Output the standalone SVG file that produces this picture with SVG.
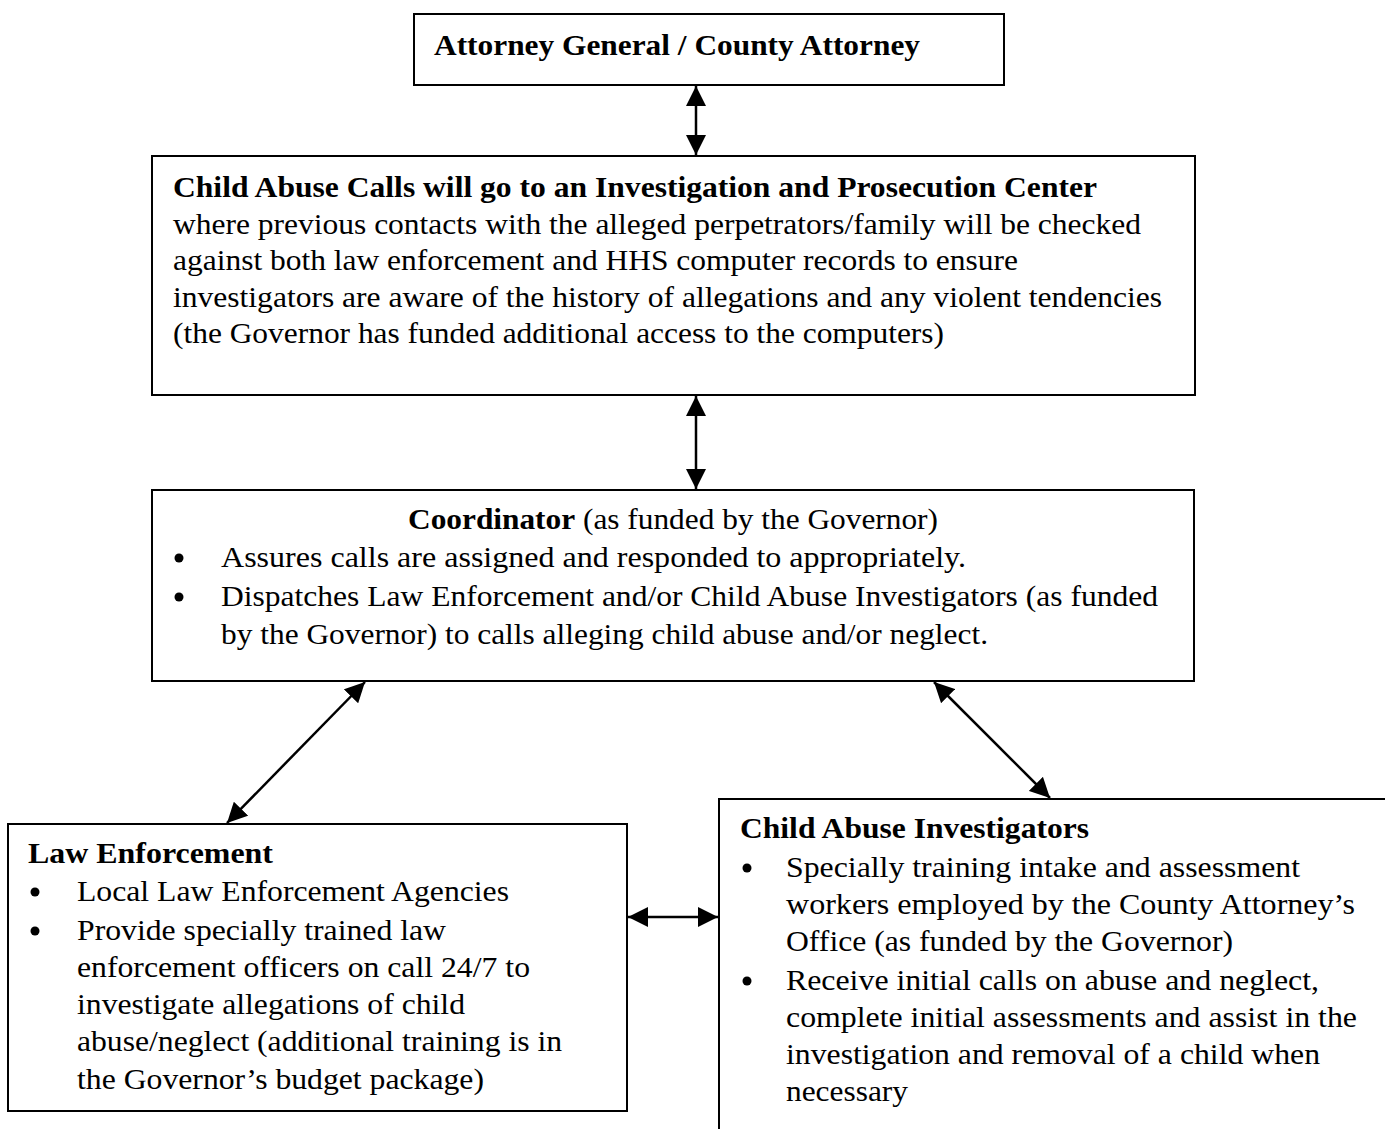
<svg xmlns="http://www.w3.org/2000/svg" width="1385" height="1129" viewBox="0 0 1385 1129">
<style>
.box{fill:none;stroke:#000;stroke-width:2}
.t{font-family:"Liberation Serif","Times New Roman",Times,serif;font-size:30px;fill:#000}
.b{font-weight:bold}
.c{stroke:#000;stroke-width:2.5;fill:none;marker-start:url(#ah);marker-end:url(#ah)}
</style>
<defs>
<marker id="ah" viewBox="0 0 20 20" refX="20" refY="10" markerWidth="20" markerHeight="20" markerUnits="userSpaceOnUse" orient="auto-start-reverse">
<path d="M0,0 L20,10 L0,20 Z" fill="#000"/>
</marker>
</defs>
<rect width="1385" height="1129" fill="#fff"/>
<g id="connectors">
<line class="c" x1="696" y1="86" x2="696" y2="155"/>
<line class="c" x1="696" y1="396" x2="696" y2="489"/>
<line class="c" x1="365" y1="682" x2="227" y2="823"/>
<line class="c" x1="934" y1="682" x2="1050" y2="798"/>
<line class="c" x1="628" y1="917" x2="718" y2="917"/>
</g>
<g id="attorney">
<rect class="box" x="414" y="14" width="590" height="71"/>
<text class="t b" x="434" y="55" textLength="486" lengthAdjust="spacingAndGlyphs">Attorney General / County Attorney</text>
</g>
<g id="center">
<rect class="box" x="152" y="156" width="1043" height="239"/>
<text class="t b" x="173" y="197" textLength="924" lengthAdjust="spacingAndGlyphs">Child Abuse Calls will go to an Investigation and Prosecution Center</text>
<text class="t" x="173" y="234" textLength="968" lengthAdjust="spacingAndGlyphs">where previous contacts with the alleged perpetrators/family will be checked</text>
<text class="t" x="173" y="270" textLength="845" lengthAdjust="spacingAndGlyphs">against both law enforcement and HHS computer records to ensure</text>
<text class="t" x="173" y="307" textLength="989" lengthAdjust="spacingAndGlyphs">investigators are aware of the history of allegations and any violent tendencies</text>
<text class="t" x="173" y="343" textLength="771" lengthAdjust="spacingAndGlyphs">(the Governor has funded additional access to the computers)</text>
</g>
<g id="coordinator">
<rect class="box" x="152" y="490" width="1042" height="191"/>
<text class="t" x="408" y="529" textLength="530" lengthAdjust="spacingAndGlyphs"><tspan class="b">Coordinator</tspan> (as funded by the Governor)</text>
<circle cx="179" cy="558" r="4.5"/>
<text class="t" x="221" y="567" textLength="745" lengthAdjust="spacingAndGlyphs">Assures calls are assigned and responded to appropriately.</text>
<circle cx="179" cy="597" r="4.5"/>
<text class="t" x="221" y="606" textLength="937" lengthAdjust="spacingAndGlyphs">Dispatches Law Enforcement and/or Child Abuse Investigators (as funded</text>
<text class="t" x="221" y="644" textLength="767" lengthAdjust="spacingAndGlyphs">by the Governor) to calls alleging child abuse and/or neglect.</text>
</g>
<g id="law-enforcement">
<rect class="box" x="8" y="824" width="619" height="287"/>
<text class="t b" x="28" y="863" textLength="245" lengthAdjust="spacingAndGlyphs">Law Enforcement</text>
<circle cx="35" cy="892" r="4.5"/>
<text class="t" x="77" y="901" textLength="432" lengthAdjust="spacingAndGlyphs">Local Law Enforcement Agencies</text>
<circle cx="35" cy="931" r="4.5"/>
<text class="t" x="77" y="940" textLength="369" lengthAdjust="spacingAndGlyphs">Provide specially trained law</text>
<text class="t" x="77" y="977" textLength="453" lengthAdjust="spacingAndGlyphs">enforcement officers on call 24/7 to</text>
<text class="t" x="77" y="1014" textLength="388" lengthAdjust="spacingAndGlyphs">investigate allegations of child</text>
<text class="t" x="77" y="1051" textLength="485" lengthAdjust="spacingAndGlyphs">abuse/neglect (additional training is in</text>
<text class="t" x="77" y="1089" textLength="407" lengthAdjust="spacingAndGlyphs">the Governor’s budget package)</text>
</g>
<g id="investigators">
<path class="box" d="M1385,799 L719,799 L719,1129"/>
<text class="t b" x="740" y="838" textLength="349" lengthAdjust="spacingAndGlyphs">Child Abuse Investigators</text>
<circle cx="747" cy="868" r="4.5"/>
<text class="t" x="786" y="877" textLength="514" lengthAdjust="spacingAndGlyphs">Specially training intake and assessment</text>
<text class="t" x="786" y="914" textLength="569" lengthAdjust="spacingAndGlyphs">workers employed by the County Attorney’s</text>
<text class="t" x="786" y="951" textLength="447" lengthAdjust="spacingAndGlyphs">Office (as funded by the Governor)</text>
<circle cx="747" cy="981" r="4.5"/>
<text class="t" x="786" y="990" textLength="533" lengthAdjust="spacingAndGlyphs">Receive initial calls on abuse and neglect,</text>
<text class="t" x="786" y="1027" textLength="571" lengthAdjust="spacingAndGlyphs">complete initial assessments and assist in the</text>
<text class="t" x="786" y="1064" textLength="534" lengthAdjust="spacingAndGlyphs">investigation and removal of a child when</text>
<text class="t" x="786" y="1101" textLength="122" lengthAdjust="spacingAndGlyphs">necessary</text>
</g>
</svg>
